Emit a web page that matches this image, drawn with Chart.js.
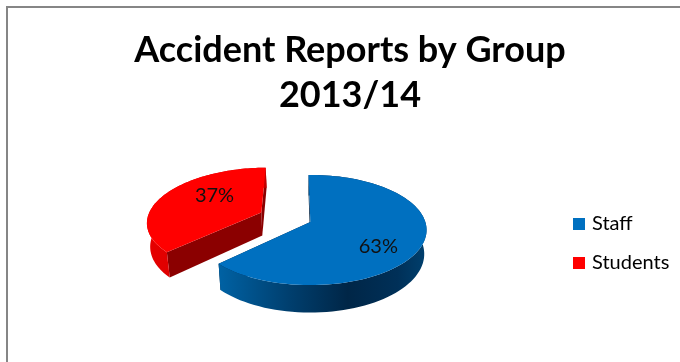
<!DOCTYPE html>
<html>
<head>
<meta charset="utf-8">
<title>Accident Reports by Group</title>
<script src="https://cdn.jsdelivr.net/npm/chart.js@4/dist/chart.umd.min.js"></script>
<style>
  html, body { margin: 0; padding: 0; background: #fff; overflow: hidden; width: 680px; height: 362px; }
  #frame { position: absolute; left: 6px; top: 6px; width: 684px; height: 380px; border-left: 2px solid #868686; border-top: 2px solid #868686; }
  canvas { display: block; }
</style>
</head>
<body>
<div id="frame"><canvas id="accidentChart" width="684" height="354"></canvas></div>
<script>
const categories = ['Staff', 'Students']
const shares = [63, 37]
const titleLines = ['Accident Reports by Group', '2013/14']

const topColors = ['#0070c0', '#ff0000']
const cutColors = ['#00213f', '#8b0000']
const wallStops = [
  [[0, '#0062a4'], [0.33, '#004070'], [0.62, '#002647'], [0.86, '#003058'], [1, '#00406e']],
  [[0, '#e60000'], [1, '#c40000']]
]
// label spot on the unit disc, measured from the slice apex
const labelSpots = [[0.555, 0.42], [-0.46, -0.35]]

const explode = [0, 39]
const tiltX = 1.394
const tiltY = 0.654
const perspective = 0.145
const wallDepth = 23.5
const wallShrink = 0.98

// Flat disc -> screen, nearer edge comes out bigger
function project(el, u, v, lower) {
  const rx = el.outerRadius * tiltX
  const ry = el.outerRadius * tiltY
  const den = 1 - perspective * v
  let x = rx * u / den
  let y = ry * v / den
  if (lower) {
    x *= wallShrink
    y += wallDepth / den
  }
  return { x: el.x + x, y: el.y + y }
}

function sliceApex(el) {
  const mid = (el.startAngle + el.endAngle) / 2
  const off = el.options.offset / el.outerRadius
  return { u: off * Math.cos(mid), v: off * Math.sin(mid) }
}

function rimPoints(el, from, to, lower) {
  const apex = sliceApex(el)
  const pts = []
  const steps = 90
  for (let i = 0; i <= steps; i++) {
    const a = from + (to - from) * i / steps
    pts.push(project(el, apex.u + Math.cos(a), apex.v + Math.sin(a), lower))
  }
  return pts
}

function fillPath(ctx, pts, fill) {
  ctx.beginPath()
  pts.forEach((p, i) => (i ? ctx.lineTo(p.x, p.y) : ctx.moveTo(p.x, p.y)))
  ctx.closePath()
  ctx.fillStyle = fill
  ctx.fill()
}

function drawSlice(ctx, el, index) {
  const apex = sliceApex(el)
  const top = project(el, apex.u, apex.v, false)
  const bottom = project(el, apex.u, apex.v, true)
  const upperRim = rimPoints(el, el.startAngle, el.endAngle, false)
  const lowerRim = rimPoints(el, el.startAngle, el.endAngle, true)

  // the two cut faces
  const first = upperRim[0]
  const last = upperRim[upperRim.length - 1]
  fillPath(ctx, [top, first, lowerRim[0], bottom], cutColors[index])
  fillPath(ctx, [top, last, lowerRim[lowerRim.length - 1], bottom], cutColors[index])

  // outer wall, shaded left to right
  const xs = upperRim.map(p => p.x)
  const grad = ctx.createLinearGradient(Math.min(...xs), 0, Math.max(...xs), 0)
  wallStops[index].forEach(s => grad.addColorStop(s[0], s[1]))
  fillPath(ctx, upperRim.concat(lowerRim.slice().reverse()), grad)

  // top face
  fillPath(ctx, [top].concat(upperRim), el.options.backgroundColor)
}

const tiltedPie = {
  id: 'tiltedPie',
  afterLayout(chart) {
    // title centred on the whole canvas, legend sits level with the pie
    chart.titleBlock.left = 0
    chart.titleBlock.right = chart.width
    chart.legend.left = 549
    chart.legend.right = chart.width
    chart.legend.top = 187
    chart.legend.bottom = chart.height
  },
  beforeDatasetDraw(chart, args) {
    const ctx = chart.ctx
    const arcs = args.meta.data
    ctx.save()
    arcs.forEach((el, i) => drawSlice(ctx, el, i))

    ctx.font = '20px Lato'
    ctx.fillStyle = '#111111'
    ctx.textAlign = 'center'
    ctx.textBaseline = 'middle'
    arcs.forEach((el, i) => {
      const apex = sliceApex(el)
      const p = project(el, apex.u + labelSpots[i][0], apex.v + labelSpots[i][1], false)
      ctx.fillText(shares[i] + '%', p.x, p.y)
    })
    ctx.restore()
    return false
  }
}

new Chart(document.getElementById('accidentChart'), {
  type: 'pie',
  data: {
    labels: categories,
    datasets: [{
      data: shares,
      backgroundColor: topColors,
      offset: explode,
      borderWidth: 0
    }]
  },
  options: {
    responsive: false,
    animation: false,
    rotation: -1,
    layout: { padding: { left: 65, right: 22, top: 0, bottom: 38 } },
    plugins: {
      tooltip: { enabled: false },
      title: {
        display: true,
        text: titleLines,
        color: '#000000',
        font: { family: 'Lato', size: 36, weight: 'bold', lineHeight: 1.25 },
        padding: { top: 20, bottom: 2 }
      },
      legend: {
        position: 'right',
        align: 'start',
        labels: {
          color: '#262626',
          font: { family: 'Lato', size: 20 },
          boxWidth: 6,
          boxHeight: 6,
          padding: 19,
          // thick outline in the fill colour keeps the swatch close to its text
          generateLabels(chart) {
            return categories.map((name, i) => ({
              text: name,
              fillStyle: topColors[i],
              strokeStyle: topColors[i],
              lineWidth: 6,
              index: i
            }))
          }
        }
      }
    }
  },
  plugins: [tiltedPie]
})
</script>
</body>
</html>
